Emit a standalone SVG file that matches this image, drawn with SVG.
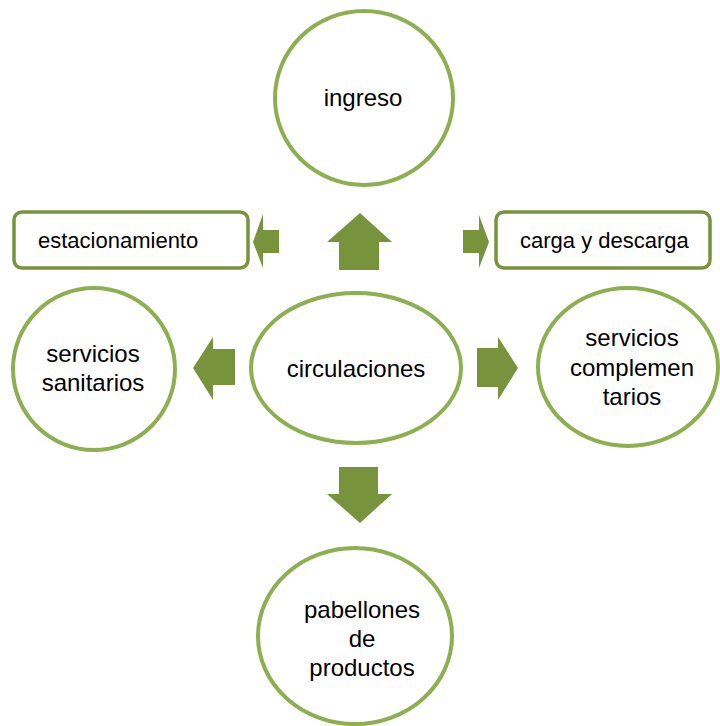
<svg xmlns="http://www.w3.org/2000/svg" width="720" height="726" viewBox="0 0 720 726">
<style>
.c{fill:#fff;stroke:#8CAF50;stroke-width:4}
.b{fill:#fff;stroke:#77933C;stroke-width:3.5}
.a{fill:#77933C}
.t{font-family:"Liberation Sans",Arial,sans-serif;font-size:24px;fill:#000;text-anchor:middle}
.s{font-family:"Liberation Sans",Arial,sans-serif;font-size:22px;fill:#000}
</style>
<rect width="720" height="726" fill="#fff"/>
<g id="connectors">
<polygon class="a" points="360,213 392,242 379,242 379,270 339,270 339,242 327,242"/>
<polygon class="a" points="253,242 263,214 263,230 279,230 279,253 263,253 263,268"/>
<polygon class="a" points="463,230 479,230 479,215 489,242 479,268 479,253 463,253"/>
<polygon class="a" points="193,368 213,337 213,349 235,349 235,385 213,385 213,400"/>
<polygon class="a" points="477,348 498,348 498,337 518,368 498,400 498,387 477,387"/>
<polygon class="a" points="339,467 378,467 378,494 392,494 360,523 327,494 339,494"/>
</g>
<g id="ingreso">
<ellipse class="c" cx="364" cy="98" rx="89" ry="87"/>
<text class="t" x="363" y="106">ingreso</text>
</g>
<g id="estacionamiento">
<rect class="b" x="14" y="212" width="234" height="56" rx="8"/>
<text class="s" x="38" y="248">estacionamiento</text>
</g>
<g id="carga">
<rect class="b" x="496" y="212" width="214" height="56" rx="8"/>
<text class="s" x="520" y="248">carga y descarga</text>
</g>
<g id="circulaciones">
<ellipse class="c" cx="356" cy="368" rx="105" ry="75"/>
<text class="t" x="356" y="377">circulaciones</text>
</g>
<g id="sanitarios">
<ellipse class="c" cx="94" cy="369" rx="81" ry="81"/>
<text class="t" x="93" y="362">servicios</text>
<text class="t" x="93" y="391">sanitarios</text>
</g>
<g id="complementarios">
<ellipse class="c" cx="628" cy="367" rx="90" ry="79"/>
<text class="t" x="632" y="346">servicios</text>
<text class="t" x="632" y="376">complemen</text>
<text class="t" x="632" y="405">tarios</text>
</g>
<g id="pabellones">
<ellipse class="c" cx="355" cy="636" rx="97" ry="88"/>
<text class="t" x="362" y="618">pabellones</text>
<text class="t" x="362" y="647">de</text>
<text class="t" x="362" y="676">productos</text>
</g>
</svg>
